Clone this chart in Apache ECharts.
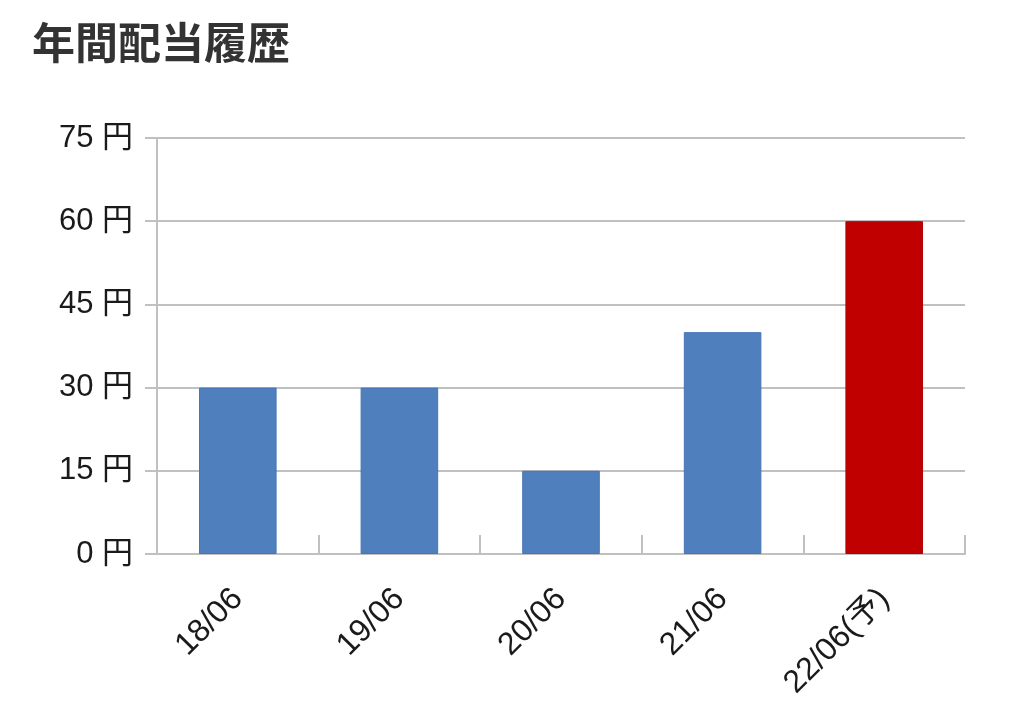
<!DOCTYPE html>
<html>
<head>
<meta charset="utf-8">
<script src="https://cdn.jsdelivr.net/npm/echarts@6/dist/echarts.min.js"></script>
<style>
  html, body { margin: 0; padding: 0; background: #fff; }
  #main { width: 1024px; height: 722px; }
</style>
</head>
<body>
<div id="main"></div>
<script>
// 年間配当履歴
var categories = ['18/06', '19/06', '20/06', '21/06', '22/06(予)'];
var dividends = [30, 30, 15, 40, 60];
var barColors = ['#4f80bd', '#4f80bd', '#4f80bd', '#4f80bd', '#c00000'];
var yTicks = [0, 15, 30, 45, 60, 75];

var font = '"Liberation Sans", "Noto Sans CJK JP", sans-serif';

function initOption(){
    var option = {
        backgroundColor: '#fff',
        animation: false,
        title: {
            text: '年間配当履歴',
            left: 27,
            top: 16,
            textStyle: {
                fontFamily: '"Noto Sans CJK JP", sans-serif',
                fontSize: 43,
                fontWeight: 'bold',
                color: '#333'
            }
        },
        grid: {
            left: 157,
            right: 59,
            top: 138,
            bottom: 168
        },
        xAxis: {
            type: 'category',
            data: categories,
            axisLine: { lineStyle: { color: '#c0c0c0', width: 2 } },
            axisTick: { show: true, inside: true, length: 19, lineStyle: { color: '#c0c0c0', width: 2 } },
            axisLabel: {
                rotate: 45,
                margin: 40,
                fontFamily: font,
                fontSize: 32,
                color: '#1a1a1a'
            }
        },
        yAxis: {
            type: 'value',
            min: yTicks[0],
            max: yTicks[yTicks.length - 1],
            interval: yTicks[1] - yTicks[0],
            axisLine: { show: true, lineStyle: { color: '#c0c0c0', width: 2 } },
            axisTick: { show: true, length: 12, lineStyle: { color: '#c0c0c0', width: 2 } },
            splitLine: { lineStyle: { color: '#c0c0c0', width: 2 } },
            axisLabel: {
                formatter: '{value} 円',
                margin: 24,
                padding: [6, 0, 0, 0],
                fontFamily: font,
                fontSize: 31,
                color: '#1a1a1a'
            }
        },
        series: [{
            type: 'bar',
            barWidth: '48%',
            data: dividends.map(function(v, i){
                return {
                    value: v,
                    itemStyle: {
                        color: barColors[i],
                        borderColor: i === 4 ? '#b00000' : '#4575b4',
                        borderWidth: 1
                    }
                };
            })
        }]
    };
    return option;
}

var myChart = echarts.init(document.getElementById('main'));
myChart.setOption(initOption());
</script>
</body>
</html>
